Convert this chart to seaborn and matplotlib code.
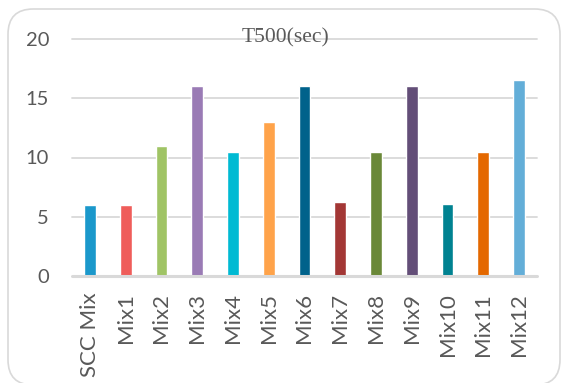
import matplotlib
matplotlib.use("Agg")
import matplotlib.pyplot as plt
from matplotlib.patches import FancyBboxPatch
import seaborn as sns
import pandas as pd

# T500 slump-flow times per mix
categories = ["SCC Mix", "Mix1", "Mix2", "Mix3", "Mix4", "Mix5", "Mix6",
              "Mix7", "Mix8", "Mix9", "Mix10", "Mix11", "Mix12"]
t500 = [6.0, 6.0, 11.0, 16.0, 10.5, 13.0, 16.0, 6.25, 10.5, 16.0, 6.1, 10.5, 16.5]
colors = ["#1B98CB", "#EF5D5A", "#A0C465", "#9A7BB5", "#00BAD3", "#FFA34A",
          "#00628B", "#A33735", "#6A8838", "#634E78", "#008291", "#E46800",
          "#63AED8"]
yticks = [0, 5, 10, 15, 20]
title = "T500(sec)"

df = pd.DataFrame({"mix": categories, "t500": t500})

sns.set_theme(style="white")
plt.rcParams["font.family"] = ["Lato", "DejaVu Sans"]

W, H = 562, 383
fig = plt.figure(figsize=(W / 100, H / 100), dpi=100)

# rounded chart frame
frame = FancyBboxPatch((8 / W, 1 - 385 / H), (552) / W, (376) / H,
                       boxstyle="round,pad=0,rounding_size=0.045",
                       transform=fig.transFigure, facecolor="white",
                       edgecolor="#D9D9D9", linewidth=1.2, zorder=-5,
                       mutation_aspect=W / H)
fig.patches.append(frame)

left, right, top, bottom = 72, 537, 39, 276
ax = fig.add_axes([left / W, 1 - bottom / H, (right - left) / W, (bottom - top) / H])
ax.set_facecolor("none")
ax.set_zorder(2)

sns.barplot(data=df, x="mix", y="t500", hue="mix", palette=colors,
            width=0.33, legend=False, ax=ax, saturation=1, zorder=3)

ax.set_xlim(-0.5, len(categories) - 0.5)
ax.set_ylim(0, 20)
ax.set_yticks(yticks)
ax.set_xlabel("")
ax.set_ylabel("")
for s in ax.spines.values():
    s.set_visible(False)
for y in yticks[1:]:
    ax.axhline(y, color="#D9D9D9", linewidth=1.3, zorder=1, clip_on=False)
ax.axhline(0, color="#D9D9D9", linewidth=2.2, zorder=4, clip_on=False)

ax.tick_params(axis="y", length=0, pad=16.5, labelsize=14.5, labelcolor="#595959")
ax.tick_params(axis="x", length=0, pad=12, labelsize=16, labelcolor="#595959",
               labelrotation=90)

fig.text(286 / W, 1 - 42 / H, title, ha="center", va="baseline",
         family=["Liberation Serif", "DejaVu Serif"], fontsize=15.5,
         color="#595959", zorder=5)

fig.savefig("out.png", dpi=100)
